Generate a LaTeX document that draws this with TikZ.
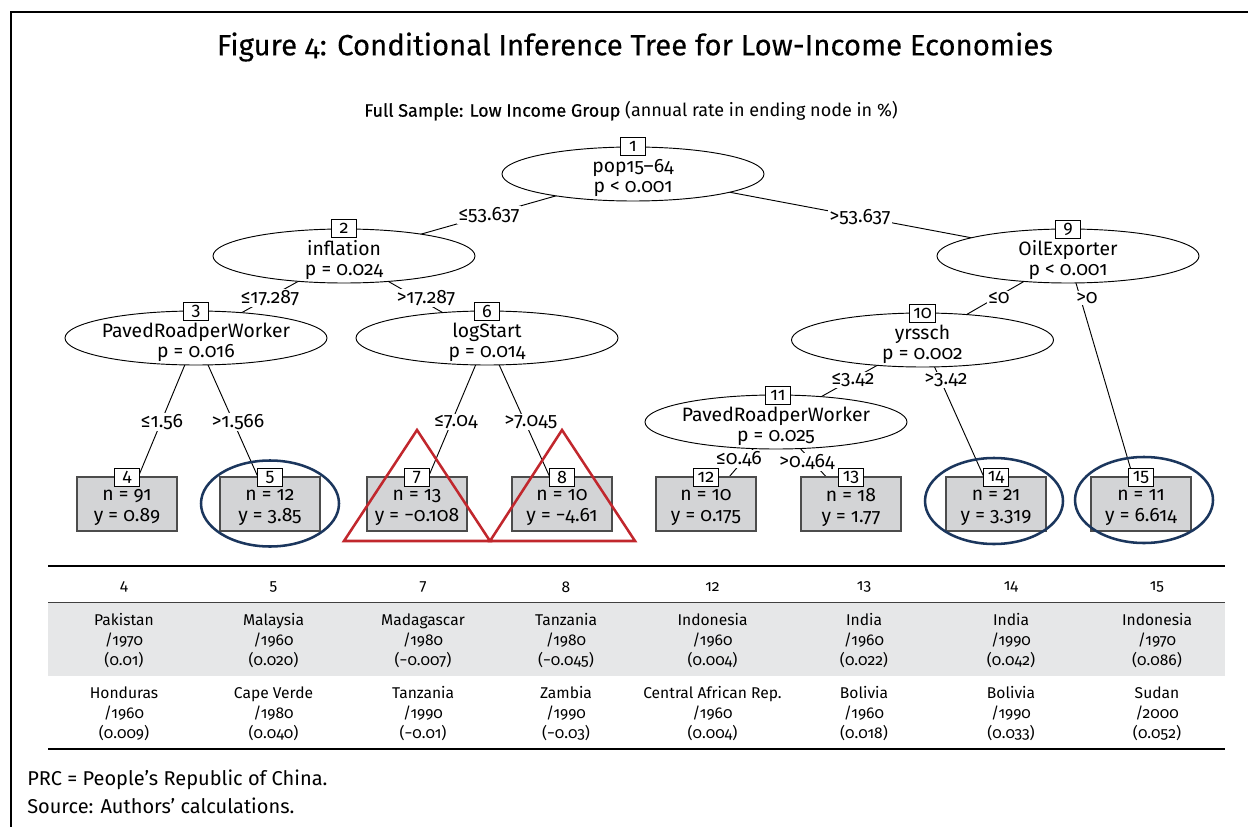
\documentclass[tikz,border=0pt]{standalone}
\usepackage{fontspec}
\setmainfont{Fira Sans}[Numbers=OldStyle]
\usetikzlibrary{shapes.geometric,backgrounds}
\definecolor{leafgray}{RGB}{211,212,214}
\definecolor{bandgray}{RGB}{230,231,232}
\definecolor{navy}{RGB}{27,54,93}
\definecolor{redtri}{RGB}{193,39,45}
\begin{document}
\begin{tikzpicture}[x=0.75pt,y=-0.75pt,
  ell/.style={draw,ellipse,fill=white,minimum width=196.5pt,minimum height=40.5pt,inner sep=0pt,line width=0.7pt},
  idbox/.style={draw,fill=white,minimum width=18.75pt,minimum height=13.5pt,inner xsep=3pt,inner ysep=1pt,font=\fontsize{13.5}{13.5}\selectfont,line width=0.7pt},
  ntext/.style={align=center,font=\fontsize{14.5}{15}\selectfont,inner sep=0pt},
  leaf/.style={draw=black!70,fill=leafgray,minimum width=75pt,minimum height=40.5pt,inner sep=0pt,line width=0.8pt},
  ltext/.style={align=center,font=\fontsize{14.5}{15.5}\selectfont,inner sep=0pt},
  elabel/.style={fill=white,inner sep=1pt,font=\fontsize{14.5}{15}\selectfont},
  edge/.style={line width=0.7pt},
  tcell/.style={align=center,font=\fontsize{11.7}{15}\selectfont,inner sep=0pt},
  hl/.style={draw=navy,line width=1.9pt,ellipse,minimum width=103.5pt,minimum height=64.5pt,inner sep=0pt},
  tri/.style={draw=redtri,line width=1.9pt,line join=miter},
]
\useasboundingbox (0,0) rectangle (1248,827);
% frame
\draw[line width=1.75pt] (11.2,827) -- (11.2,12.2) -- (1248,12.2);
% titles
\node[font=\fontsize{22}{26}\selectfont] (title) at (635,47) {\addfontfeature{FakeBold=0.25}Figure 4: Conditional Inference Tree for Low-Income Economies};
\node[font=\fontsize{13.5}{15}\selectfont] (sub) at (631,111) {{\addfontfeature{FakeBold=0.4}Full Sample: Low Income Group} (annual rate in ending node in \%)};

% inner nodes
\node[ell] (n1) at (633,174) {};
\node[ntext] (t1) at (633,178) {pop15–64\\p < 0.001};
\node[idbox] (b1) at (633,146) {1};

\node[ell] (n2) at (344,256) {};
\node[ntext] (t2) at (344,260) {inflation\\p = 0.024};
\node[idbox] (b2) at (344,228) {2};

\node[ell] (n3) at (196,338) {};
\node[ntext] (t3) at (196,342) {PavedRoadperWorker\\p = 0.016};
\node[idbox] (b3) at (196,311) {3};

\node[ell] (n6) at (487,338) {};
\node[ntext] (t6) at (487,342) {logStart\\p = 0.014};
\node[idbox] (b6) at (487,311) {6};

\node[ell] (n9) at (1068,256) {};
\node[ntext] (t9) at (1068,260) {OilExporter\\p < 0.001};
\node[idbox] (b9) at (1068,229) {9};

\node[ell] (n10) at (922.5,340) {};
\node[ntext] (t10) at (922.5,344) {yrssch\\p = 0.002};
\node[idbox] (b10) at (922.5,313) {10};

\node[ell] (n11) at (776,422) {};
\node[ntext] (t11) at (776,426) {PavedRoadperWorker\\p = 0.025};
\node[idbox] (b11) at (778,395) {11};

% leaves
\foreach \nm/\xx/\nn/\yy in {4/127/91/0.89, 5/270/12/3.85, 7/417/13/−0.108, 8/562/10/−4.61, 12/706/10/0.175, 13/851/18/1.77, 14/996/21/3.319, 15/1141/11/6.614}{
  \node[leaf] (l\nm) at (\xx,504) {};
  \node[ltext] (lt\nm) at (\xx,507.5) {n = \nn\\y = \yy};
  \node[idbox] (lb\nm) at (\xx,477) {\nm};
}

% edges
\begin{scope}[on background layer]
\draw[edge] (n1.center) -- (n2.center);
\draw[edge] (n1.center) -- (n9.center);
\draw[edge] (n2.center) -- (n3.center);
\draw[edge] (n2.center) -- (n6.center);
\draw[edge] (n3.center) -- (l4.center);
\draw[edge] (n3.center) -- (l5.center);
\draw[edge] (n6.center) -- (l7.center);
\draw[edge] (n6.center) -- (l8.center);
\draw[edge] (n9.center) -- (n10.center);
\draw[edge] (n9.center) -- (l15.center);
\draw[edge] (n10.center) -- (n11.center);
\draw[edge] (n10.center) -- (l14.center);
\draw[edge] (n11.center) -- (l12.center);
\draw[edge] (n11.center) -- (l13.center);
\end{scope}

% edge labels
\node[elabel] (e12) at (489,215) {≤53.637};
\node[elabel] (e19) at (860,217) {>53.637};
\node[elabel] (e23) at (270,298) {≤17.287};
\node[elabel] (e26) at (426,298) {>17.287};
\node[elabel] (e34) at (162,422) {≤1.56};
\node[elabel] (e35) at (238,422) {>1.566};
\node[elabel] (e67) at (456,422) {≤7.04};
\node[elabel] (e68) at (531,422) {>7.045};
\node[elabel] (e910) at (999,298) {≤0};
\node[elabel] (e915) at (1087,298) {>0};
\node[elabel] (e1011) at (853,380) {≤3.42};
\node[elabel] (e1014) at (946,380) {>3.42};
\node[elabel] (e1112) at (739,459) {≤0.46};
\node[elabel] (e1113) at (807,462) {>0.464};

% highlights
\node[hl] (h5) at (270,503.5) {};
\node[hl] (h14) at (994,501) {};
\node[hl] (h15) at (1144,500) {};
\draw[tri] (344,541) -- (417,430) -- (490,541) -- cycle;
\draw[tri] (490,541) -- (562,430) -- (635,541) -- cycle;

% table
\fill[bandgray] (48,602) rectangle (1225,676);
\draw[line width=1.5pt] (48,566) -- (1225,566);
\draw[line width=0.5pt,black!75] (48,602) -- (1225,602);
\draw[line width=1.8pt] (48,749) -- (1225,749);
\foreach \nm/\xx/\ca/\cb in {
  4/124/{Pakistan\\/1970\\(0.01)}/{Honduras\\/1960\\(0.009)},
  5/273.5/{Malaysia\\/1960\\(0.020)}/{Cape Verde\\/1980\\(0.040)},
  7/423/{Madagascar\\/1980\\(−0.007)}/{Tanzania\\/1990\\(−0.01)},
  8/566/{Tanzania\\/1980\\(−0.045)}/{Zambia\\/1990\\(−0.03)},
  12/712.5/{Indonesia\\/1960\\(0.004)}/{Central African Rep.\\/1960\\(0.004)},
  13/864/{India\\/1960\\(0.022)}/{Bolivia\\/1960\\(0.018)},
  14/1011/{India\\/1990\\(0.042)}/{Bolivia\\/1990\\(0.033)},
  15/1157/{Indonesia\\/1970\\(0.086)}/{Sudan\\/2000\\(0.052)}}{
  \node[tcell] (th\nm) at (\xx,587) {\nm};
  \node[tcell] (ta\nm) at (\xx,641) {\ca};
  \node[tcell] (tb\nm) at (\xx,714) {\cb};
}

% footnotes
\node[anchor=west,inner sep=0pt,font=\fontsize{15}{18}\selectfont] (fn1) at (27,780) {PRC = People’s Republic of China.};
\node[anchor=west,inner sep=0pt,font=\fontsize{15}{18}\selectfont] (fn2) at (27,806) {Source: Authors’ calculations.};
\end{tikzpicture}
\end{document}
